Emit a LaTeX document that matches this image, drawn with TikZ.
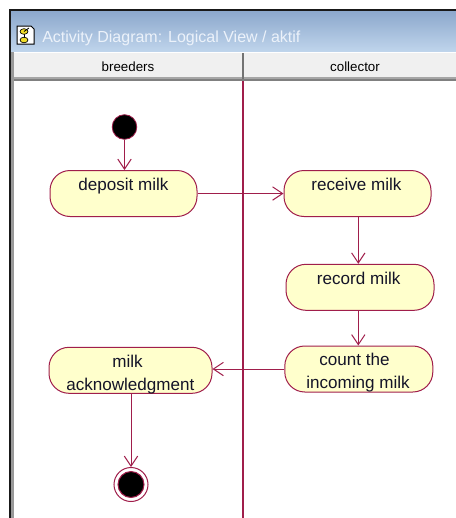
\documentclass[tikz,border=0pt]{standalone}
\usepackage{fontspec}
\setmainfont{Liberation Sans}
\usetikzlibrary{arrows.meta}
\definecolor{lc}{RGB}{160,30,75}
\definecolor{ny}{RGB}{255,255,204}
\definecolor{tbtop}{RGB}{140,168,204}
\definecolor{tbbot}{RGB}{192,213,236}
\definecolor{hdr}{RGB}{240,240,240}
\definecolor{ttl}{RGB}{236,242,250}
\definecolor{txtc}{RGB}{20,20,40}
\definecolor{icy}{RGB}{240,220,40}
\begin{document}
\begin{tikzpicture}[x=0.75pt,y=-0.75pt,
  act/.style={draw=lc,fill=ny,line width=0.75pt,rounded corners=15pt,minimum height=34.5pt,inner sep=0pt},
  lbl/.style={font=\fontsize{12.8}{15}\selectfont,text=txtc,inner sep=0pt,anchor=base},
  hlbl/.style={font=\fontsize{10}{12}\selectfont,text=black,inner sep=0pt,anchor=base},
  arr/.style={draw=lc,line width=0.75pt,-{Straight Barb[length=7.5pt,width=10pt,line width=0.75pt]}},
  lane/.style={draw=lc,line width=1pt}]
\useasboundingbox (0,0) rectangle (456,518);
\fill[white] (0,0) rectangle (456,518);
% window frame
\shade[top color=tbtop,bottom color=tbbot] (11,11) rectangle (456,52);
\fill[hdr] (11,52) rectangle (456,77);
\fill[white] (11,52) rectangle (456,53);
\fill[black!35] (11,77) rectangle (456,79);
\fill[black!50] (11,79) rectangle (456,81);
\fill[black!40] (11,52) rectangle (13.5,518);
\fill[black!55] (241.5,53) rectangle (244,79);
\fill[black!90] (9,9) rectangle (456,11);
\fill[black!90] (9,9) rectangle (11,518);
% icon
\draw[black,line width=0.75pt,fill=white] (17,26) -- (31,26) -- (34,29) -- (34,44) -- (17,44) -- cycle;
\draw[black,line width=0.6pt] (24,32) -- (24,40);
\draw[black,line width=0.5pt,fill=icy] (24,31.5) ellipse (4 and 2.8);
\draw[black,line width=0.5pt,fill=icy] (24,40) ellipse (4 and 2.8);
\draw[black,line width=0.6pt] (24,31.5) -- (29,28);
% title and headers
\node[font=\fontsize{12}{14}\selectfont,text=ttl,inner sep=0pt,anchor=base west] (title) at (42,42.5) {Activity Diagram: Logical View / aktif};
\node[hlbl] (hb) at (128,71) {breeders};
\node[hlbl] (hc) at (355,71) {collector};
% swimlane divider
\coordinate (l1) at (243,81);
\coordinate (l2) at (243,518);
\draw[lane] (l1) -- (l2);
% nodes
\node[circle,fill=black,draw=lc,line width=0.6pt,minimum size=18.5pt,inner sep=0pt] (s) at (124.5,127) {};
\node[act,minimum width=110.25pt] (d) at (123.5,193.5) {};
\node[act,minimum width=110.25pt] (r) at (357.5,193.5) {};
\node[act,minimum width=111pt] (rm) at (360,287.3) {};
\node[act,minimum width=111pt] (c) at (358.8,369) {};
\node[act,minimum width=122.25pt] (a) at (130.5,370.3) {};
\node[circle,draw=lc,line width=0.75pt,fill=white,minimum size=25.5pt,inner sep=0pt] (e) at (131,484.5) {};
\node[circle,draw=lc,line width=0.75pt,fill=black,minimum size=19.5pt,inner sep=0pt] (ei) at (131,484.5) {};
% labels
\node[lbl] (dt) at (123.5,190.7) {deposit milk};
\node[lbl] (rt) at (356.5,190.7) {receive milk};
\node[lbl] (rmt) at (358.7,284) {record milk};
\node[lbl] (ct1) at (354.5,365.5) {count the};
\node[lbl] (ct2) at (358,388.3) {incoming milk};
\node[lbl] (at1) at (127.5,367) {milk};
\node[lbl] (at2) at (130.3,390) {acknowledgment};
% connectors
\coordinate (xc) at (358.3,0);
\draw[arr] (s.south) -- (s.south |- d.north);
\draw[arr] (d.east) -- (r.west);
\draw[arr] (r.south -| xc) -- (rm.north -| xc);
\draw[arr] (rm.south -| xc) -- (c.north -| xc);
\draw[arr] (c.west) -- (c.west -| a.east);
\draw[arr] (a.south -| e) -- (e.north);
\end{tikzpicture}
\end{document}
